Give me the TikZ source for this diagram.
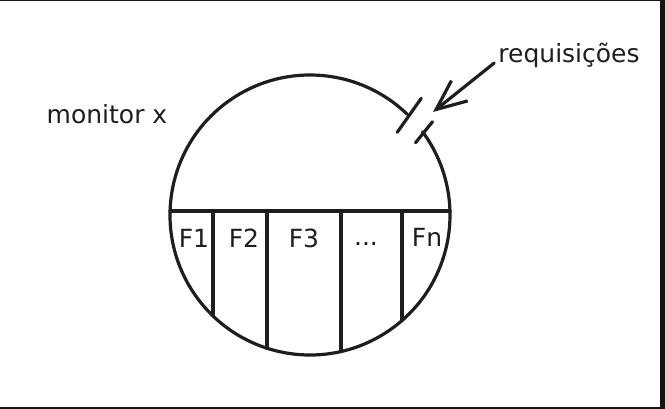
\documentclass[tikz,border=0pt]{standalone}
\usepackage{fontspec}
\setmainfont{DejaVu Sans}
\usepackage{tikz}
\usetikzlibrary{positioning, arrows.meta}
\definecolor{tinta}{HTML}{1E1E1E}
\definecolor{moldura}{HTML}{141414}

\begin{document}
\begin{tikzpicture}[x=1pt,y=-1pt]
	\tikzstyle{traco}=[draw=tinta,line width=3.2pt,line cap=round,line join=round]
	\tikzstyle{rotulo}=[text=tinta,font=\fontsize{25}{29}\selectfont,inner sep=0pt,anchor=base]
	\useasboundingbox (0,0) rectangle (665,409);
	\fill[white] (0,0) rectangle (665,409);
	\fill[moldura] (0,0) rectangle (665,1.2);
	\fill[moldura] (660,0) rectangle (665,409);
	\fill[moldura] (0,406.5) rectangle (665,409);
	% monitor
	\coordinate (m) at (310,215);
	\coordinate (gap) at (433,112);
	\coordinate (ga) at ([shift={(-46:140)}]m);
	\coordinate (gb) at ([shift={(-36.5:140)}]m);
	\draw[traco] (gb) arc[start angle=-36.5,end angle=314,radius=140];
	\draw[traco] ([shift={(-10,18)}]ga) -- ([shift={(14,-16)}]ga);
	\draw[traco] ([shift={(-7,11)}]gb) -- ([shift={(10,-10)}]gb);
	% filas
	\draw[traco] (170.1,211) -- (449.9,211);
	\foreach \px in {213,267,341,402}
		\draw[traco] (\px,211) -- (\px,{215+100*sqrt(1.96-((\px-310)/100)^2)});
	\node[rotulo] (f1) at (194,248) {F1};
	\node[rotulo] (f2) at (244,248) {F2};
	\node[rotulo] (f3) at (304,248) {F3};
	\node[rotulo] (fd) at (366,246) {...};
	\node[rotulo] (fn) at (427,247) {Fn};
	% textos
	\node[rotulo] (mon) at (107,124) {monitor x};
	\node[rotulo] (req) at (569,63) {requisições};
	\draw[traco,-{Straight Barb[length=30pt,width=26pt]}] ([xshift=-4pt]req.base west) -- (gap);
\end{tikzpicture}
\end{document}
